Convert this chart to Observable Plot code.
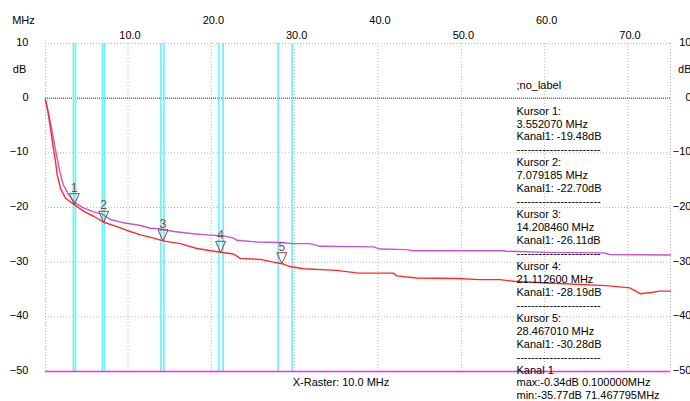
<!DOCTYPE html>
<html><head><meta charset="utf-8">
<script src="https://cdn.jsdelivr.net/npm/d3@7"></script>
<script src="https://cdn.jsdelivr.net/npm/@observablehq/plot@0.6"></script>
<style>body{margin:0;background:#fff;}</style>
</head><body><div id="chart"></div>
<script>
// ---- data ----
const xTicksUpper = [20, 40, 60];
const xTicksLower = [10, 30, 50, 70];
const yTicks = [10, 0, -10, -20, -30, -40, -50];
const gridY = [10, -10, -20, -30, -40];

// Kanal 1 (red)
const redFreq = [0.1, 0.38, 0.70, 0.97, 1.30, 1.50, 1.90, 2.50, 3.552, 4.69, 5.89, 7.079, 8.69, 9.89, 11.49, 13.08, 14.208, 16.28, 18.28, 21.113, 22.67, 23.47, 25.87, 27.46, 28.467, 29.46, 31.06, 35.06, 37.65, 41.84, 42.25, 44.65, 49.44, 52.23, 54.63, 56.23, 60.23, 67.42, 70.21, 71.468, 73.0, 73.8, 75.1];
const redDb   = [-0.34, -2.4, -5.5, -8.5, -11.6, -14.0, -16.5, -18.3, -19.48, -20.7, -21.6, -22.70, -23.5, -24.2, -25.0, -25.6, -26.11, -26.6, -27.5, -28.19, -28.5, -29.3, -29.5, -30.0, -30.28, -30.8, -31.2, -31.5, -32.0, -32.0, -32.5, -32.9, -33.0, -33.2, -33.2, -33.5, -33.8, -34.3, -34.7, -35.77, -35.5, -35.3, -35.3];

// reference trace (violet)
const refFreq = [0.1, 0.50, 0.90, 1.18, 1.50, 1.81, 2.22, 2.89, 3.70, 4.69, 5.89, 6.90, 7.89, 9.48, 11.49, 12.68, 13.88, 15.48, 17.87, 19.48, 21.47, 22.67, 23.07, 25.47, 28.26, 29.86, 31.86, 33.06, 39.45, 40.25, 43.45, 44.24, 52.23, 55.03, 55.43, 60.23, 67.01, 67.81, 75.1];
const refDb   = [-0.34, -3.0, -6.1, -8.5, -11.0, -13.4, -15.8, -17.7, -19.2, -20.1, -20.8, -21.2, -22.2, -22.8, -23.3, -23.8, -23.9, -24.4, -24.8, -25.0, -25.2, -25.6, -26.0, -26.3, -26.4, -26.6, -26.6, -27.1, -27.2, -27.6, -27.7, -27.9, -27.9, -27.9, -28.0, -28.2, -28.3, -28.6, -28.7];

// cursors
const cursorFreq = [3.552070, 7.079185, 14.208460, 21.112600, 28.467010];
const cursorDb   = [-19.48, -22.70, -26.11, -28.19, -30.28];
const cursorLineFreq = [3.456, 3.695, 6.93, 7.17, 13.94, 14.30, 20.89, 21.41, 28.02, 29.70];

const kanalName = "Kanal 1";
const kanalMaxDb = -0.34, kanalMaxFreq = 0.100000;
const kanalMinDb = -35.77, kanalMinFreq = 71.467795;
const traceLabel = ";no_label";
const xRasterLabel = "X-Raster: 10.0 MHz";

// ---- build ----
const red = redFreq.map((f, i) => ({f, db: redDb[i]}));
const ref = refFreq.map((f, i) => ({f, db: refDb[i]}));
const cursors = cursorFreq.map((f, i) => ({f, db: cursorDb[i], n: String(i + 1)}));

const dashes = "-----------------------";
const panelLines = [traceLabel, ""];
cursors.forEach((c, i) => {
  panelLines.push(`Kursor ${i + 1}:`, `${c.f.toFixed(6)} MHz`, `Kanal1: ${c.db.toFixed(2)}dB`, dashes);
});
panelLines.push(kanalName,
  `max:${kanalMaxDb.toFixed(2)}dB ${kanalMaxFreq.toFixed(6)}MHz`,
  `min:${kanalMinDb.toFixed(2)}dB ${kanalMinFreq.toFixed(6)}MHz`);
const panelText = panelLines.join("\n");

const downTriangle = {
  draw(ctx) {
    ctx.moveTo(-5, -11);
    ctx.lineTo(5, -11);
    ctx.lineTo(0, 0);
    ctx.closePath();
  }
};

const fmt1 = d => d.toFixed(1);
const markerColor = "#8a4444";

const chart = Plot.plot({
  width: 690,
  height: 401,
  marginLeft: 45,
  marginRight: 20,
  marginTop: 43,
  marginBottom: 30,
  style: {fontFamily: "'Liberation Sans', Arial, sans-serif", fontSize: "11px", background: "#fff", color: "#000"},
  x: {domain: [0.1, 75.1], label: null},
  y: {domain: [-50, 10], label: null},
  marks: [
    // grid
    Plot.ruleX([...xTicksLower, ...xTicksUpper, 0.1, 75.1], {stroke: "#b8b8b8", strokeDasharray: "1,2", strokeWidth: 1}),
    Plot.ruleY(gridY, {stroke: "#b8b8b8", strokeDasharray: "1,2", strokeWidth: 1}),
    Plot.ruleY([0], {stroke: "#222", strokeDasharray: "1,1", strokeWidth: 1}),
    // cursor lines
    Plot.ruleX(cursorLineFreq, {stroke: "#72f2f2", strokeWidth: 1.8}),
    // bottom magenta line
    Plot.ruleY([-50], {stroke: "#ff22ff", strokeWidth: 1.5}),
    // traces
    Plot.line(ref, {x: "f", y: "db", stroke: "#c853d3", strokeWidth: 1.4}),
    Plot.line(red, {x: "f", y: "db", stroke: "#ff2b2b", strokeWidth: 1.4}),
    // markers
    Plot.dot(cursors, {x: "f", y: "db", symbol: downTriangle, stroke: markerColor, fill: "none", strokeWidth: 1}),
    Plot.text(cursors, {x: "f", y: "db", text: "n", dy: -17, fill: markerColor, fontSize: 12}),
    // axes
    Plot.axisX(xTicksUpper, {anchor: "top", tickSize: 0, tickPadding: 20, dx: 2, tickFormat: fmt1, fill: "#000", label: null}),
    Plot.axisX(xTicksLower, {anchor: "top", tickSize: 0, tickPadding: 5, dx: 2, tickFormat: fmt1, fill: "#000", label: null}),
    Plot.axisY(yTicks, {anchor: "left", tickSize: 0, tickPadding: 17, dy: -1, fill: "#000", label: null}),
    Plot.axisY(yTicks, {anchor: "right", tickSize: 0, tickPadding: 21, dy: -1, textAnchor: "end", fill: "#000", label: null}),
    Plot.text(["MHz"], {frameAnchor: "top-left", dx: -22, dy: -27, textAnchor: "middle", fill: "#000"}),
    Plot.text(["dB"], {frameAnchor: "top-left", dx: -26, dy: 22, textAnchor: "middle", fill: "#000"}),
    Plot.text(["dB"], {frameAnchor: "top-right", dx: 21, dy: 22, textAnchor: "end", fill: "#000"}),
    Plot.text([xRasterLabel], {frameAnchor: "bottom", dx: -17, dy: 14, textAnchor: "middle", fill: "#000"}),
    // info panel
    Plot.text([panelText], {frameAnchor: "top-left", dx: 471, dy: 36, textAnchor: "start", lineAnchor: "top", lineHeight: 1.177, fill: "#000"})
  ]
});
document.getElementById("chart").appendChild(chart);
</script>
</body></html>
